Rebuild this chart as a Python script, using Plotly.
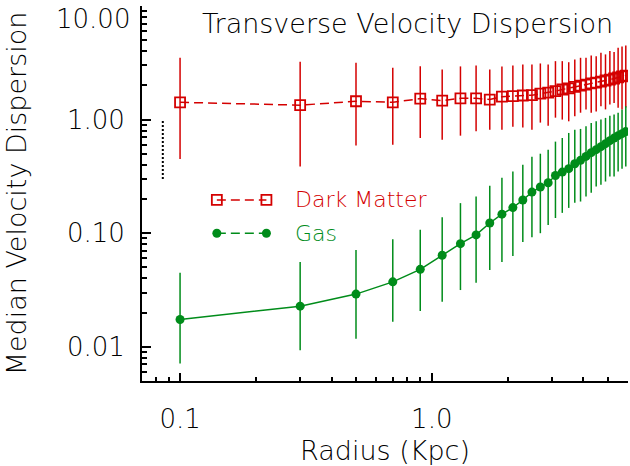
import math
import plotly.graph_objects as go

# ---------------- data ----------------
radius = [0.1, 0.3, 0.5, 0.7, 0.9, 1.1, 1.3, 1.5, 1.7, 1.9,
          2.1, 2.3, 2.5, 2.7, 2.9, 3.1, 3.3, 3.5, 3.7, 3.9,
          4.1, 4.3, 4.5, 4.7, 4.9, 5.1, 5.3, 5.5, 5.7, 5.9]

dm_median = [1.42, 1.34, 1.45, 1.42, 1.53, 1.47, 1.54, 1.54, 1.50, 1.59,
             1.61, 1.63, 1.64, 1.69, 1.73, 1.78, 1.84, 1.88, 1.94, 1.99,
             2.03, 2.08, 2.12, 2.16, 2.21, 2.25, 2.30, 2.35, 2.40, 2.44]
dm_upper = [3.50, 3.23, 3.17, 2.86, 2.95, 2.76, 2.94, 3.00, 2.76, 2.94,
            3.00, 3.06, 3.06, 3.12, 3.06, 3.27, 3.27, 3.20, 3.38, 3.50,
            3.50, 3.67, 3.62, 3.88, 3.75, 4.01, 3.93, 4.30, 4.41, 4.50]
dm_lower = [0.450, 0.387, 0.593, 0.601, 0.689, 0.666, 0.722, 0.788, 0.816, 0.816,
            0.867, 0.850, 0.816, 0.941, 0.885, 1.04, 1.00, 0.966, 1.07, 1.15,
            1.23, 1.15, 1.18, 1.31, 1.23, 1.36, 1.40, 1.27, 1.23, 1.28]

gas_median = [0.0174, 0.0228, 0.0291, 0.0373, 0.0481, 0.0640, 0.0809, 0.0966, 0.123, 0.147,
              0.168, 0.196, 0.230, 0.255, 0.278, 0.322, 0.345, 0.370, 0.409, 0.438,
              0.474, 0.512, 0.544, 0.578, 0.614, 0.653, 0.687, 0.722, 0.752, 0.784]
gas_upper = [0.0449, 0.0558, 0.0712, 0.0885, 0.107, 0.138, 0.184, 0.210, 0.261, 0.308,
             0.350, 0.401, 0.471, 0.501, 0.543, 0.640, 0.689, 0.763, 0.816, 0.828,
             0.873, 0.935, 0.966, 1.00, 1.035, 1.08, 1.11, 1.15, 1.23, 1.31]
gas_lower = [0.00713, 0.00933, 0.0118, 0.0166, 0.0207, 0.0249, 0.0316, 0.0366, 0.0474, 0.0558,
             0.0631, 0.0838, 0.0922, 0.100, 0.118, 0.136, 0.151, 0.167, 0.185, 0.190,
             0.210, 0.227, 0.258, 0.267, 0.285, 0.316, 0.316, 0.350, 0.370, 0.387]

# small dotted reference bar at the left edge
ref_bar_x = [0.0854, 0.0854]
ref_bar_y = [0.30, 1.00]

x_tick_vals = [0.1, 1.0]
x_tick_text = ["0.1", "1.0"]
y_tick_vals = [0.01, 0.1, 1.0, 10.0]
y_tick_text = ["0.01", "0.10", "1.00", ""]
top_label = "10.00"

x_range = [0.0706, 6.02]
y_range = [0.005, 10.0]

title_text = "Transverse Velocity Dispersion"
x_title = "Radius (Kpc)"
y_title = "Median Velocity Dispersion"
legend_names = ["Dark Matter", "Gas"]

# ---------------- styles ----------------
RED = "#d40000"
GREEN = "#008c1a"
FONT = "DejaVu Sans"
TXT = "#000000"
W = 200


def minor_vals(lo, hi):
    vals = []
    for e in range(math.floor(math.log10(lo)) - 1, math.ceil(math.log10(hi)) + 1):
        for m in range(2, 10):
            v = m * 10 ** e
            if lo <= v <= hi:
                vals.append(v)
    return vals


fig = go.Figure()

fig.add_trace(go.Scatter(
    x=radius, y=dm_median, mode="lines+markers",
    line=dict(color=RED, width=1.5, dash="9px,5px"),
    marker=dict(symbol="square-open", size=10, color=RED, line=dict(width=1.8, color=RED)),
    error_y=dict(type="data", symmetric=False,
                 array=[u - m for u, m in zip(dm_upper, dm_median)],
                 arrayminus=[m - l for m, l in zip(dm_median, dm_lower)],
                 color=RED, thickness=1.5, width=0),
    showlegend=False,
))

fig.add_trace(go.Scatter(
    x=radius, y=gas_median, mode="lines+markers",
    line=dict(color=GREEN, width=1.5),
    marker=dict(symbol="circle", size=9, color=GREEN),
    error_y=dict(type="data", symmetric=False,
                 array=[u - m for u, m in zip(gas_upper, gas_median)],
                 arrayminus=[m - l for m, l in zip(gas_median, gas_lower)],
                 color=GREEN, thickness=1.5, width=0),
    showlegend=False,
))

fig.add_trace(go.Scatter(
    x=ref_bar_x, y=ref_bar_y, mode="lines",
    line=dict(color="black", width=2, dash="2px,2px"),
    showlegend=False,
))

# ----- custom IDL-style legend, drawn on an overlay axis in paper fractions -----
leg_x = [0.154, 0.256]
leg_text_x = 0.31
leg_y = [0.483, 0.394]
fig.add_trace(go.Scatter(
    x=leg_x, y=[leg_y[0]] * 2, xaxis="x2", yaxis="y2", mode="lines+markers",
    line=dict(color=RED, width=1.5, dash="9px,5px"),
    marker=dict(symbol="square-open", size=10, color=RED, line=dict(width=1.8, color=RED)),
    showlegend=False,
))
fig.add_trace(go.Scatter(
    x=leg_x, y=[leg_y[1]] * 2, xaxis="x2", yaxis="y2", mode="lines+markers",
    line=dict(color=GREEN, width=1.5, dash="9px,5px"),
    marker=dict(symbol="circle", size=9, color=GREEN),
    showlegend=False,
))

annotations = [
    dict(text=legend_names[0], x=leg_text_x, y=leg_y[0], xref="paper", yref="paper",
         xanchor="left", yanchor="middle", showarrow=False,
         font=dict(family=FONT, size=22, color=RED, weight=W)),
    dict(text=legend_names[1], x=leg_text_x, y=leg_y[1], xref="paper", yref="paper",
         xanchor="left", yanchor="middle", showarrow=False,
         font=dict(family=FONT, size=22, color=GREEN, weight=W)),
    dict(text=title_text, x=0.119, y=0.953, xref="paper", yref="paper",
         xanchor="left", yanchor="middle", showarrow=False,
         font=dict(family=FONT, size=27, color=TXT, weight=W)),
    dict(text=top_label, x=0, y=1, xref="paper", yref="paper",
         xanchor="right", yanchor="top", xshift=-10, yshift=4, showarrow=False,
         font=dict(family=FONT, size=26, color=TXT, weight=W)),
]

axis_common = dict(
    type="log", showline=True, linecolor="black", linewidth=2,
    ticks="inside", tickcolor="black", tickwidth=1.5,
    showgrid=False, zeroline=False, mirror=False,
    tickfont=dict(family=FONT, size=26, color=TXT, weight=W),
)

fig.update_layout(
    width=630, height=466,
    margin=dict(l=142, r=2, t=6, b=85),
    paper_bgcolor="white", plot_bgcolor="white",
    showlegend=False,
    xaxis=dict(
        **axis_common,
        range=[math.log10(x_range[0]), math.log10(x_range[1])],
        tickmode="array", tickvals=x_tick_vals, ticktext=x_tick_text, ticklen=8,
        ticklabelstandoff=14,
        minor=dict(ticks="inside", ticklen=4, tickwidth=1.5, tickcolor="black",
                   tickvals=minor_vals(x_range[0], x_range[1]), showgrid=False),
        title=dict(text=x_title, font=dict(family=FONT, size=27, color=TXT, weight=W), standoff=10),
    ),
    yaxis=dict(
        **axis_common,
        range=[math.log10(y_range[0]), math.log10(y_range[1])],
        tickmode="array", tickvals=y_tick_vals, ticktext=y_tick_text, ticklen=9,
        ticklabelstandoff=10,
        minor=dict(ticks="inside", ticklen=5, tickwidth=1.5, tickcolor="black",
                   tickvals=minor_vals(y_range[0], y_range[1]), showgrid=False),
        title=dict(text=y_title, font=dict(family=FONT, size=27, color=TXT, weight=W), standoff=32),
    ),
    xaxis2=dict(overlaying="x", range=[0, 1], visible=False, anchor="y2"),
    yaxis2=dict(overlaying="y", range=[0, 1], visible=False, anchor="x2"),
    annotations=annotations,
)

fig.write_html("out.html")
